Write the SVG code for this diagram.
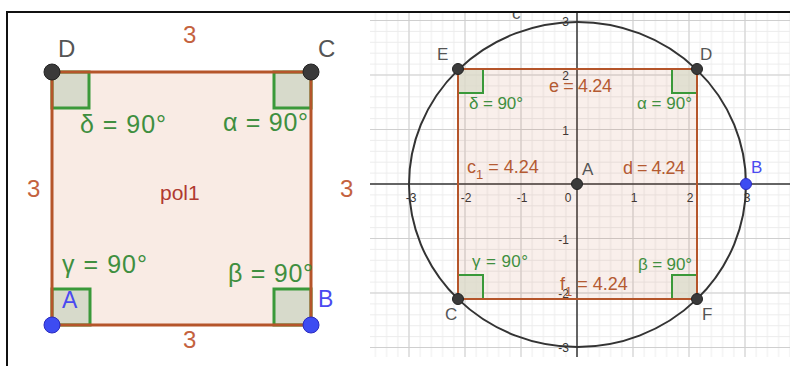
<svg xmlns="http://www.w3.org/2000/svg" width="790" height="366" viewBox="0 0 790 366">
<style>
text{font-family:"Liberation Sans",Arial,sans-serif}
.pt{fill:#555}
.bl{fill:#4a4af0}
.side{fill:#c4623e}
.ang{fill:#3f8f3f}
.val{fill:#b45a32}
.ax{fill:#333;font-size:12px}
.ma{fill:#d7dacb;stroke:#3a993a;stroke-width:3}
.mb{fill:#dcdccc;fill-opacity:0.8;stroke:#3a993a;stroke-width:2}
.dk{fill:#3a3a3a;stroke:#222;stroke-width:1}
.db{fill:#3d4cf2;stroke:#2a2ac0;stroke-width:1}
.maj{stroke:#cfcfcf;stroke-width:1}
</style>
<defs>
<pattern id="minor" patternUnits="userSpaceOnUse" x="571.4" y="178.55" width="11.2" height="10.9">
<path d="M5.6 0V10.9M0 5.45H11.2" stroke="#ececec" stroke-width="1" fill="none"/>
</pattern>
</defs>
<rect width="790" height="366" fill="#fff"/>

<!-- LEFT PANEL -->
<g id="left-panel">
<g id="pol1-fill"><polygon points="52,72 311,72 311,325 52,325" fill="#f9ebe4"/></g>
<g id="left-angles">
<rect class="ma" x="52" y="72" width="37" height="36"/>
<rect class="ma" x="274" y="72" width="37" height="36"/>
<rect class="ma" x="52" y="289" width="38" height="36"/>
<rect class="ma" x="274" y="289" width="37" height="36"/>
</g>
<g id="left-edges"><polygon points="52,72 311,72 311,325 52,325" fill="none" stroke="#b5552a" stroke-width="3"/></g>
<g id="L-D"><circle class="dk" cx="52" cy="72" r="8"/><text class="pt" x="58" y="57" font-size="24">D</text></g>
<g id="L-C"><circle class="dk" cx="311" cy="72" r="8"/><text class="pt" x="318" y="57" font-size="24">C</text></g>
<g id="L-A"><circle class="db" cx="52" cy="325" r="8"/><text class="bl" x="62" y="308" font-size="23">A</text></g>
<g id="L-B"><circle class="db" cx="311" cy="325" r="8"/><text class="bl" x="318" y="307" font-size="23">B</text></g>
<g id="left-labels">
<text class="side" x="183" y="43" font-size="24">3</text>
<text class="side" x="27" y="197" font-size="24">3</text>
<text class="side" x="340" y="197" font-size="24">3</text>
<text class="side" x="183" y="348" font-size="24">3</text>
<text x="160" y="200" font-size="21" fill="#b03a30">pol1</text>
<text class="ang" x="80" y="133" font-size="25" textLength="86">δ = 90°</text>
<text class="ang" x="223" y="131" font-size="25" textLength="85">α = 90°</text>
<text class="ang" x="62" y="273" font-size="25" textLength="85">γ = 90°</text>
<text class="ang" x="228" y="282" font-size="25" textLength="85">β = 90°</text>
</g>
</g>

<!-- RIGHT PANEL -->
<g id="right-panel">
<g id="grid">
<rect x="370" y="12" width="420" height="345" fill="url(#minor)"/>
<path class="maj" d="M409 12V357M465 12V357M521 12V357M633 12V357M689 12V357M745 12V357M370 20.5H790M370 75H790M370 129.5H790M370 238.5H790M370 293H790M370 347.5H790"/>
</g>
<g id="axes" stroke="#333" stroke-width="1.5">
<line x1="370" y1="184" x2="790" y2="184"/>
<line x1="577" y1="12" x2="577" y2="357"/>
</g>
<g id="tick-labels">
<text class="ax" x="411" y="202" text-anchor="middle">-3</text>
<text class="ax" x="466" y="202" text-anchor="middle">-2</text>
<text class="ax" x="522" y="202" text-anchor="middle">-1</text>
<text class="ax" x="568" y="202" text-anchor="middle">0</text>
<text class="ax" x="634" y="202" text-anchor="middle">1</text>
<text class="ax" x="690" y="202" text-anchor="middle">2</text>
<text class="ax" x="747" y="202" text-anchor="middle">3</text>
<text class="ax" x="569" y="26" text-anchor="end">3</text>
<text class="ax" x="569" y="80" text-anchor="end">2</text>
<text class="ax" x="569" y="135" text-anchor="end">1</text>
<text class="ax" x="569" y="244" text-anchor="end">-1</text>
<text class="ax" x="569" y="298" text-anchor="end">-2</text>
<text class="ax" x="569" y="352" text-anchor="end">-3</text>
</g>
<g id="rect-fill"><rect x="458" y="69" width="239" height="230" fill="#c8643c" fill-opacity="0.1"/></g>
<g id="right-angles">
<rect class="mb" x="458" y="69" width="25" height="24"/>
<rect class="mb" x="672" y="69" width="25" height="24"/>
<rect class="mb" x="458" y="275" width="25" height="24"/>
<rect class="mb" x="672" y="275" width="25" height="24"/>
</g>
<g id="right-edges"><rect x="458" y="69" width="239" height="230" fill="none" stroke="#b5552a" stroke-width="2"/></g>
<g id="circle-c"><ellipse cx="577.5" cy="184.5" rx="168.5" ry="162.5" fill="none" stroke="#333" stroke-width="2"/>
<text class="pt" x="512" y="19" font-size="17">c</text></g>
<g id="R-E"><circle class="dk" cx="458" cy="69" r="5.5"/><text class="pt" x="437" y="60" font-size="17">E</text></g>
<g id="R-D"><circle class="dk" cx="697" cy="69" r="5.5"/><text class="pt" x="700" y="60" font-size="17">D</text></g>
<g id="R-C"><circle class="dk" cx="458" cy="299" r="5.5"/><text class="pt" x="445" y="320" font-size="17">C</text></g>
<g id="R-F"><circle class="dk" cx="697" cy="299" r="5.5"/><text class="pt" x="702" y="320" font-size="17">F</text></g>
<g id="R-A"><circle class="dk" cx="577" cy="184" r="5.5"/><text class="pt" x="582" y="175" font-size="17">A</text></g>
<g id="R-B"><circle class="db" cx="746" cy="184" r="5.5"/><text class="bl" x="751" y="173" font-size="17">B</text></g>
<g id="right-labels">
<text class="val" x="549" y="92" font-size="18" textLength="63">e = 4.24</text>
<text class="ang" x="469" y="109" font-size="17" textLength="54">δ = 90°</text>
<text class="ang" x="637" y="109" font-size="17" textLength="55">α = 90°</text>
<text class="val" x="467" y="173" font-size="18">c<tspan dy="6" font-size="13">1</tspan><tspan dy="-6"> = 4.24</tspan></text>
<text class="val" x="623" y="174" font-size="18" textLength="62">d = 4.24</text>
<text class="ang" x="472" y="267" font-size="17" textLength="56">γ = 90°</text>
<text class="ang" x="638" y="270" font-size="17" textLength="54">β = 90°</text>
<text class="val" x="560" y="290" font-size="18">f<tspan dy="6" font-size="13">1</tspan><tspan dy="-6"> = 4.24</tspan></text>
</g>
</g>

<!-- frame -->
<g id="frame">
<rect x="0" y="0" width="790" height="11" fill="#fff"/>
<line x1="6" y1="12" x2="790" y2="12" stroke="#111" stroke-width="2"/>
<line x1="7" y1="11" x2="7" y2="366" stroke="#111" stroke-width="2"/>
</g>
</svg>
